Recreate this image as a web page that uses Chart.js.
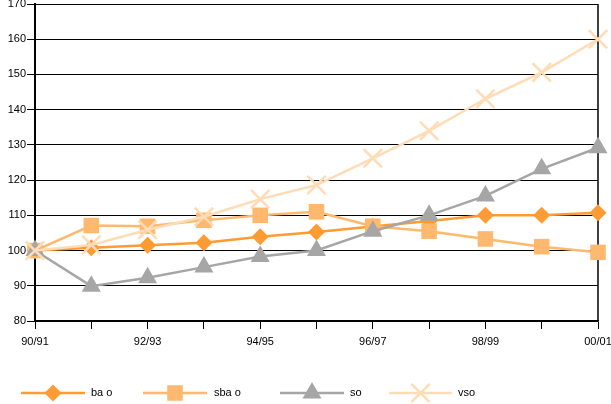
<!DOCTYPE html>
<html><head><meta charset="utf-8">
<script src="https://cdn.jsdelivr.net/npm/chart.js@4/dist/chart.umd.min.js"></script>
<style>html,body{margin:0;padding:0;background:#fff}#wrap{width:611px;height:404px;position:relative}</style>
</head><body><div id="wrap"><canvas id="c" width="611" height="404"></canvas></div>
<script>
const categories = ['90/91','91/92','92/93','93/94','94/95','95/96','96/97','97/98','98/99','99/00','00/01'];
const bao  = [100, 100.8, 101.5, 102.2, 103.9, 105.3, 106.8, 108.4, 110.0, 110.0, 110.7];
const sbao = [100, 107.1, 106.9, 108.6, 110.0, 111.0, 106.9, 105.5, 103.3, 101.1, 99.5];
const so   = [100, 89.9, 92.3, 95.3, 98.3, 100.0, 105.5, 110.0, 115.5, 123.2, 129.2];
const vso  = [100, 101.6, 105.9, 109.6, 114.6, 118.6, 126.2, 134.0, 143.1, 150.6, 160.0];
const seriesNames = ['ba o','sba o','so','vso'];
const yTicks = {min:80, max:170, step:10};

const colors = ['#FF9B33','#FFB96E','#A6A6A6','#FFDCB6'];
const styles = ['rectRot','rect','triangle','crossRot'];
const radii = [8.5, 11, 11, 13];

function drawMarker(ctx, style, x, y, r, color){
  ctx.save();
  ctx.fillStyle=color; ctx.strokeStyle=color;
  ctx.beginPath();
  if(style==='rectRot'){ctx.moveTo(x-r,y);ctx.lineTo(x,y-r);ctx.lineTo(x+r,y);ctx.lineTo(x,y+r);ctx.closePath();ctx.fill();}
  else if(style==='rect'){const s=r*Math.SQRT1_2;ctx.rect(x-s,y-s,2*s,2*s);ctx.fill();}
  else if(style==='triangle'){for(let i=0;i<3;i++){const a=i*2*Math.PI/3;const px=x+Math.sin(a)*r,py=y-Math.cos(a)*r;i?ctx.lineTo(px,py):ctx.moveTo(px,py);}ctx.closePath();ctx.fill();}
  else {const o=r*Math.SQRT1_2;ctx.lineWidth=2.5;ctx.moveTo(x-o,y-o);ctx.lineTo(x+o,y+o);ctx.moveTo(x+o,y-o);ctx.lineTo(x-o,y+o);ctx.stroke();}
  ctx.restore();
}

const legendPos = [{x1:21,x2:85,tx:91},{x1:143,x2:207,tx:214},{x1:280,x2:344,tx:350},{x1:389,x2:452,tx:458}];
const legendPlugin = {
  id:'customLegend',
  afterDraw(chart){
    const ctx=chart.ctx; const y=393;
    chart.data.datasets.forEach((ds,i)=>{
      const p=legendPos[i];
      ctx.save();
      ctx.strokeStyle=ds.borderColor; ctx.lineWidth=2.5;
      ctx.beginPath(); ctx.moveTo(p.x1,y); ctx.lineTo(p.x2,y); ctx.stroke();
      drawMarker(ctx, styles[i], (p.x1+p.x2)/2, y, radii[i], ds.borderColor);
      ctx.fillStyle='#000'; ctx.font='11px "Liberation Sans", Arial, sans-serif';
      ctx.textBaseline='middle'; ctx.textAlign='left';
      ctx.fillText(ds.label, p.tx, y);
      ctx.restore();
    });
  }
};
const borderPlugin = {
  id:'rightBorder',
  beforeDatasetsDraw(chart){
    const {ctx, chartArea:a}=chart;
    ctx.save(); ctx.strokeStyle='#000'; ctx.lineWidth=1.5;
    ctx.beginPath(); ctx.moveTo(a.right, a.top); ctx.lineTo(a.right, a.bottom); ctx.stroke();
    ctx.restore();
  }
};

const seriesData=[bao,sbao,so,vso];
new Chart(document.getElementById('c'),{
  type:'line',
  data:{labels:categories, datasets: seriesData.map((d,i)=>({
    label:seriesNames[i], data:d, borderColor:colors[i], backgroundColor:colors[i],
    pointBackgroundColor:colors[i], pointBorderColor:colors[i],
    pointStyle:styles[i], pointRadius:radii[i], pointHoverRadius:radii[i],
    pointBorderWidth: i===3?2.5:0, borderWidth:2.5, tension:0, clip:false, order:4-i
  }))},
  options:{
    responsive:false, animation:false, devicePixelRatio:1,
    layout:{autoPadding:false, padding:{top:4,right:13,left:0,bottom:0}},
    plugins:{legend:{display:false}, tooltip:{enabled:false}},
    scales:{
      x:{
        offset:false,
        afterFit(s){s.height=83; s.paddingLeft=0; s.paddingRight=0;},
        grid:{drawOnChartArea:false, drawTicks:true, tickLength:8, color:'#000', lineWidth:1},
        border:{display:true, color:'#000', width:1.5},
        ticks:{autoSkip:false, maxRotation:0, padding:6, color:'#000',
          font:{family:'"Liberation Sans", Arial, sans-serif', size:11},
          callback(v,i){return i%2===0?categories[i]:'';}}
      },
      y:{
        min:yTicks.min, max:yTicks.max,
        afterFit(s){s.width=35; s.paddingTop=0; s.paddingBottom=0;},
        grid:{color:'#000', lineWidth:1, tickLength:8, drawTicks:true},
        border:{display:true, color:'#000', width:2},
        ticks:{stepSize:yTicks.step, padding:1, color:'#000',
          font:{family:'"Liberation Sans", Arial, sans-serif', size:11}}
      }
    }
  },
  plugins:[borderPlugin, legendPlugin]
});
</script></body></html>
